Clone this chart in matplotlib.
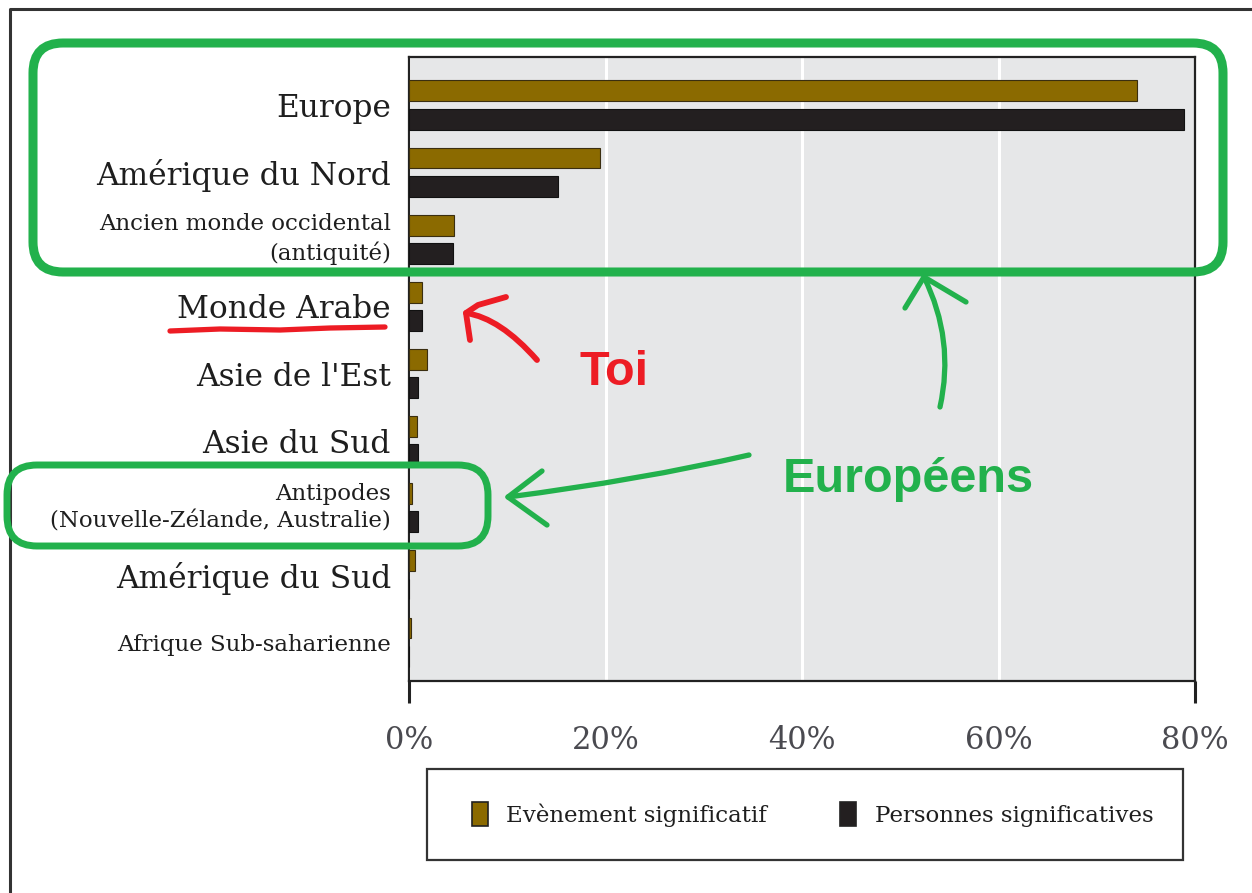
import matplotlib
matplotlib.use("Agg")
import matplotlib.pyplot as plt
import numpy as np
from matplotlib.patches import FancyBboxPatch, PathPatch
from matplotlib.path import Path
from matplotlib.lines import Line2D
from matplotlib.patches import Patch
import matplotlib.transforms as mtransforms

# ---------------- data ----------------
categories = [
    "Europe",
    "Amérique du Nord",
    "Ancien monde occidental\n(antiquité)",
    "Monde Arabe",
    "Asie de l'Est",
    "Asie du Sud",
    "Antipodes\n(Nouvelle-Zélande, Australie)",
    "Amérique du Sud",
    "Afrique Sub-saharienne",
]
small_labels = {2, 6, 8}
evenements = [74.1, 19.4, 4.6, 1.3, 1.8, 0.8, 0.3, 0.6, 0.25]
personnes = [78.9, 15.2, 4.5, 1.35, 0.9, 0.9, 0.9, 0.05, 0.0]
xticks = [0, 20, 40, 60, 80]
xticklabels = ["0%", "20%", "40%", "60%", "80%"]
series_names = ["Evènement significatif", "Personnes significatives"]

GOLD = "#8b6a00"
BLACK = "#231f20"
GREEN = "#22b14c"
RED = "#ed1c24"

W, H = 1252, 893
fig = plt.figure(figsize=(W / 100, H / 100), dpi=100)
fig.patch.set_facecolor("white")

# axes placement in pixels
L, R, T, B = 409, 1195, 57, 681
ax = fig.add_axes([L / W, 1 - B / H, (R - L) / W, (B - T) / H])
ax.set_facecolor("#e6e7e8")

y = np.arange(len(categories))
bh = 0.31
off = 0.21
ax.barh(y - off, evenements, height=bh, color=GOLD, edgecolor="#3a2e10", linewidth=0.8, zorder=3)
ax.barh(y + off, personnes, height=bh, color=BLACK, edgecolor="#111111", linewidth=0.8, zorder=3)

ax.set_xlim(0, 80)
ax.set_ylim(8.58, -0.715)
ax.set_xticks(xticks)
ax.set_xticklabels(xticklabels, family="DejaVu Serif", fontsize=22, color="#4a4a50")
ax.tick_params(axis="x", length=16, width=2.2, color="#222222", pad=16)
for i, tl in enumerate(ax.xaxis.get_major_ticks()):
    if 0 < i < len(xticks) - 1:
        tl.tick1line.set_visible(False)
ax.grid(axis="x", color="white", linewidth=2.2, zorder=1)
ax.set_axisbelow(True)

ax.set_yticks(y)
ax.set_yticklabels(categories)
ax.tick_params(axis="y", length=0, pad=13)
for i, lbl in enumerate(ax.get_yticklabels()):
    lbl.set_family("DejaVu Serif")
    lbl.set_color("#1e1e1e")
    lbl.set_fontsize(16.5 if i in small_labels else 22.5)
    lbl.set_multialignment("right")
    lbl.set_linespacing(1.35)
    if "\n" in lbl.get_text():
        lbl.set_verticalalignment("center")

for s in ax.spines.values():
    s.set_color("#222222")
    s.set_linewidth(1.6)

# legend
handles = [Patch(facecolor=GOLD, edgecolor="#222222", linewidth=1.2),
           Patch(facecolor=BLACK, edgecolor="#222222", linewidth=1.2)]
lx0, ly0, lx1, ly1 = 427, 769, 1183, 860
leg = fig.legend(handles, series_names, loc="center",
                 bbox_to_anchor=((lx0 + lx1) / 2 / W + 0.006, 1 - (ly0 + ly1) / 2 / H),
                 ncol=2, frameon=False, prop={"family": "DejaVu Serif", "size": 16.5},
                 handlelength=0.7, handleheight=1.2, handletextpad=0.8, columnspacing=3.2)
for t in leg.get_texts():
    t.set_color("#1e1e1e")

# pixel transform (x right, y down)
px = mtransforms.Affine2D().scale(1 / W, -1 / H).translate(0, 1) + fig.transFigure

fig.add_artist(FancyBboxPatch((lx0, ly0), lx1 - lx0, ly1 - ly0, boxstyle="square,pad=0",
                              transform=px, facecolor="none", edgecolor="#333333", linewidth=1.6))

# outer frame (top and left)
fig.add_artist(Line2D([10, 10, W + 5], [H + 5, 9, 9], transform=px, color="#333333", linewidth=2.2))

# green rounded rectangles
fig.add_artist(FancyBboxPatch((33, 43), 1190, 229, boxstyle="round,pad=0,rounding_size=30",
                              transform=px, facecolor="none", edgecolor=GREEN, linewidth=6.5, zorder=5))
fig.add_artist(FancyBboxPatch((7, 465), 481, 81, boxstyle="round,pad=0,rounding_size=30",
                              transform=px, facecolor="none", edgecolor=GREEN, linewidth=5.0, zorder=5))


def curve(pts, color, lw):
    codes = [Path.MOVETO] + [Path.CURVE3] * (len(pts) - 1)
    fig.add_artist(PathPatch(Path(pts, codes), transform=px, facecolor="none",
                             edgecolor=color, linewidth=lw, capstyle="round", zorder=6))


def stroke(xs, ys, color, lw):
    fig.add_artist(Line2D(xs, ys, transform=px, color=color, linewidth=lw,
                          solid_capstyle="round", solid_joinstyle="round", zorder=6))


# red underline under "Monde Arabe"
stroke([170, 220, 280, 330, 385], [331, 329, 330, 328, 327], RED, 3.8)

# red arrow
curve([(537, 360), (500, 318), (466, 313)], RED, 4.2)
stroke([470, 466, 478, 492, 506], [340, 313, 305, 301, 297], RED, 4.2)

# green up arrow
curve([(940, 407), (955, 340), (924, 277)], GREEN, 3.8)
stroke([905, 924, 966], [308, 277, 302], GREEN, 3.8)

# green left arrow
curve([(749, 455), (640, 480), (508, 497)], GREEN, 3.8)
stroke([542, 508, 547], [471, 497, 525], GREEN, 3.8)

fig.text(579 / W, 1 - 385 / H, "Toi", color=RED, fontsize=35, fontweight="bold",
         family="Liberation Sans", ha="left", va="baseline", zorder=7)
fig.text(783 / W, 1 - 492 / H, "Européens", color=GREEN, fontsize=35, fontweight="bold",
         family="Liberation Sans", ha="left", va="baseline", zorder=7)

fig.savefig("out.png", dpi=100)
